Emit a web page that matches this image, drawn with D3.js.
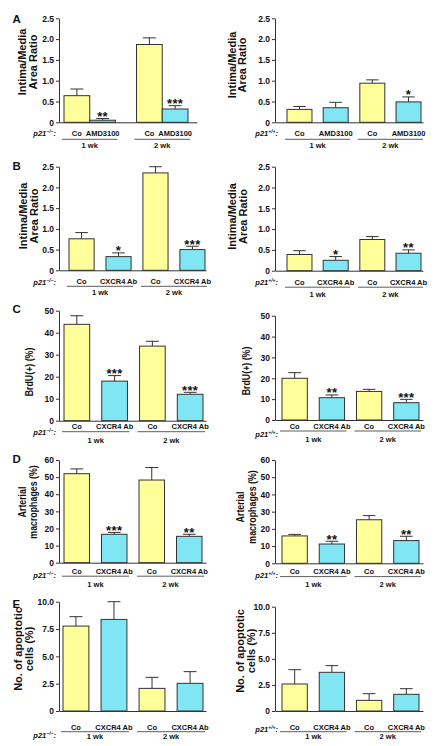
<!DOCTYPE html>
<html><head><meta charset="utf-8">
<script src="https://cdn.jsdelivr.net/npm/d3@7"></script>
<style>
body{margin:0;background:#fff}
svg{display:block}
text{font-family:"Liberation Sans",Arial,sans-serif;font-weight:bold;fill:#111}
</style>
</head><body><svg id="c" width="439" height="746"></svg>
<script>
// ---------- data ----------
const groups = ["1 wk", "2 wk"];
const treatAMD = ["Co", "AMD3100"];
const treatAb = ["Co", "CXCR4 Ab"];

const ticksRatio = [0, 0.5, 1.0, 1.5, 2.0, 2.5];
const ticksBrdU = [0, 10, 20, 30, 40, 50];
const ticksMac = [0, 10, 20, 30, 40, 50, 60];
const ticksApo = [0, 2.5, 5.0, 7.5, 10.0];

// order: [1wk Co, 1wk treat, 2wk Co, 2wk treat]
const aKoMean = [0.64, 0.05, 1.87, 0.32];
const aKoSem  = [0.16, 0.04, 0.16, 0.08];
const aKoStars = ["", "**", "", "***"];
const aWtMean = [0.31, 0.35, 0.94, 0.49];
const aWtSem  = [0.07, 0.13, 0.08, 0.12];
const aWtStars = ["", "", "", "*"];

const bKoMean = [0.76, 0.33, 2.35, 0.50];
const bKoSem  = [0.15, 0.09, 0.15, 0.08];
const bKoStars = ["", "*", "", "***"];
const bWtMean = [0.39, 0.25, 0.75, 0.42];
const bWtSem  = [0.09, 0.09, 0.07, 0.08];
const bWtStars = ["", "*", "", "**"];

const cKoMean = [43.8, 18.0, 33.9, 12.0];
const cKoSem  = [3.9, 2.5, 2.2, 0.9];
const cKoStars = ["", "***", "", "***"];
const cWtMean = [20.0, 10.7, 13.7, 8.3];
const cWtSem  = [2.7, 1.3, 1.0, 1.6];
const cWtStars = ["", "**", "", "***"];

const dKoMean = [52.0, 16.6, 48.3, 15.4];
const dKoSem  = [2.8, 1.1, 7.3, 1.2];
const dKoStars = ["", "***", "", "**"];
const dWtMean = [15.9, 11.2, 25.3, 13.2];
const dWtSem  = [0.9, 1.6, 2.4, 2.5];
const dWtStars = ["", "**", "", "**"];

const eKoMean = [7.77, 8.38, 2.07, 2.53];
const eKoSem  = [0.86, 1.62, 1.01, 1.07];
const eKoStars = ["", "", "", ""];
const eWtMean = [2.59, 3.71, 1.02, 1.60];
const eWtSem  = [1.37, 0.64, 0.64, 0.54];
const eWtStars = ["", "", "", ""];

const yTitleRatio = ["Intima/Media", "Area Ratio"];
const yTitleBrdU = ["BrdU(+) (%)"];
const yTitleMac = ["Arterial", "macrophages (%)"];
const yTitleApo = ["No. of apoptotic", "cells (%)"];

// ---------- styles / layout ----------
const YELLOW = "#ffff99", BLUE = "#80e6f4", STROKE = "#333";
const fmtDec = v => v === 0 ? "0" : d3.format(".1f")(v);
const fmtInt = v => d3.format("d")(v);

const L = {axisX: 59, axisEnd: 206, p21X: 56, geno: "\u2212/\u2212"};
const R = {axisX: 275, axisEnd: 423, p21X: 278, geno: "+/+"};

// squeeze factor for titles of rows that were vertically compressed in the figure
const panels = [
  {side: L, letter: "A", letterY: 23, y0: 122.3, y1: 18.3, ticks: ticksRatio, fmt: fmtDec,
   mean: aKoMean, sem: aKoSem, stars: aKoStars, treat: treatAMD, xr: [64, 188], po: 0.29, pi: 0, axisEnd: 197,
   title: yTitleRatio, tx: [26, 37], ty: 62, sq: 1, d1: 13.7, d2: 17, d3: 25.3, pY: 136},
  {side: R, y0: 122.3, y1: 18.3, ticks: ticksRatio, fmt: fmtDec,
   mean: aWtMean, sem: aWtSem, stars: aWtStars, treat: treatAMD, xr: [287, 421], po: 0.16, pi: 0.31,
   title: yTitleRatio, tx: [235.5, 246], ty: 65, sq: 1, d1: 13.7, d2: 17, d3: 25.3, pY: 136},
  {side: L, letter: "B", letterY: 170, y0: 270.3, y1: 166.7, ticks: ticksRatio, fmt: fmtDec,
   mean: bKoMean, sem: bKoSem, stars: bKoStars, treat: treatAb, xr: [69, 205], po: 0.16, pi: 0.32,
   title: yTitleRatio, tx: [26.5, 37.5], ty: 216, sq: 1, d1: 13.5, d2: 16, d3: 24.5, pY: 285},
  {side: R, y0: 270.7, y1: 166.7, ticks: ticksRatio, fmt: fmtDec,
   mean: bWtMean, sem: bWtSem, stars: bWtStars, treat: treatAb, xr: [287, 421], po: 0.16, pi: 0.31,
   title: yTitleRatio, tx: [235.5, 247], ty: 216.5, sq: 1, d1: 14, d2: 16.5, d3: 26, pY: 285},
  {side: L, letter: "C", letterY: 313, y0: 420.7, y1: 310.7, ticks: ticksBrdU, fmt: fmtInt,
   mean: cKoMean, sem: cKoSem, stars: cKoStars, treat: treatAb, xr: [64, 203], po: 0.16, pi: 0.32,
   title: yTitleBrdU, tx: [33], ty: 372, sq: 0.8, d1: 8.7, d2: 11, d3: 22, pY: 435},
  {side: R, y0: 420, y1: 315.7, ticks: ticksBrdU, fmt: fmtInt,
   mean: cWtMean, sem: cWtSem, stars: cWtStars, treat: treatAb, xr: [282, 419], po: 0.16, pi: 0.32,
   title: yTitleBrdU, tx: [249.5], ty: 371, sq: 0.8, d1: 8.5, d2: 11, d3: 22, pY: 436.5},
  {side: L, letter: "D", letterY: 463, y0: 562.7, y1: 460, ticks: ticksMac, fmt: fmtInt,
   mean: dKoMean, sem: dKoSem, stars: dKoStars, treat: treatAb, xr: [64, 202], po: 0.16, pi: 0.32,
   title: yTitleMac, tx: [25.5, 37], ty: 502, sq: 0.8, d1: 11.3, d2: 13.5, d3: 24.5, pY: 578},
  {side: R, y0: 563.3, y1: 460, ticks: ticksMac, fmt: fmtInt,
   mean: dWtMean, sem: dWtSem, stars: dWtStars, treat: treatAb, xr: [282, 419], po: 0.16, pi: 0.32,
   title: yTitleMac, tx: [244, 255.5], ty: 507, sq: 0.8, d1: 10.7, d2: 13.3, d3: 24, pY: 578},
  {side: L, letter: "E", letterY: 608, y0: 711, y1: 601.7, ticks: ticksApo, fmt: fmtDec,
   mean: eKoMean, sem: eKoSem, stars: eKoStars, treat: treatAb, xr: [63, 203], po: 0.16, pi: 0.32,
   title: yTitleApo, tx: [22, 33], ty: 649, sq: 1, d1: 19, d2: 20.7, d3: 28.3, pY: 738},
  {side: R, y0: 711, y1: 606.7, ticks: ticksApo, fmt: fmtDec,
   mean: eWtMean, sem: eWtSem, stars: eWtStars, treat: treatAb, xr: [282, 419], po: 0.16, pi: 0.32,
   title: yTitleApo, tx: [243.5, 255], ty: 651, sq: 1, d1: 19, d2: 20.7, d3: 28.3, pY: 731.7}
];

const svg = d3.select("#c");

panels.forEach(p => {
  const g = svg.append("g");
  const ax = p.side.axisX;
  const y = d3.scaleLinear().domain([0, d3.max(p.ticks)]).range([p.y0, p.y1]);
  const xo = d3.scaleBand().domain(groups).range(p.xr).paddingInner(p.po).paddingOuter(0);
  const xi = d3.scaleBand().domain(p.treat).range([0, xo.bandwidth()]).paddingInner(p.pi).paddingOuter(0);
  const bw = xi.bandwidth();

  const rows = [];
  groups.forEach((gr, gi) => p.treat.forEach((t, ti) => {
    const i = gi * 2 + ti;
    rows.push({gr, t, ti, m: p.mean[i], s: p.sem[i], star: p.stars[i], x: xo(gr) + xi(t)});
  }));

  // error bars (behind bars)
  const capW = bw * 0.5;
  rows.forEach(r => {
    const cx = r.x + bw / 2;
    g.append("line").attr("x1", cx).attr("x2", cx).attr("y1", y(r.m)).attr("y2", y(r.m + r.s))
      .attr("stroke", STROKE).attr("stroke-width", 1);
    g.append("line").attr("x1", cx - capW / 2).attr("x2", cx + capW / 2)
      .attr("y1", y(r.m + r.s)).attr("y2", y(r.m + r.s))
      .attr("stroke", STROKE).attr("stroke-width", 1);
  });

  // bars
  g.selectAll("rect.bar").data(rows).join("rect").attr("class", "bar")
    .attr("x", d => d.x).attr("width", bw)
    .attr("y", d => y(d.m)).attr("height", d => y(0) - y(d.m))
    .attr("fill", d => d.ti === 0 ? YELLOW : BLUE)
    .attr("stroke", STROKE).attr("stroke-width", 1);

  // stars
  rows.filter(r => r.star).forEach(r => {
    g.append("text").attr("x", r.x + bw / 2).attr("y", y(r.m + r.s) + 2.4)
      .attr("text-anchor", "middle").attr("font-size", 13).attr("letter-spacing", 0.4)
      .text(r.star);
  });

  // y axis
  const yAxis = d3.axisLeft(y).tickValues(p.ticks).tickFormat(p.fmt).tickSize(3).tickSizeOuter(0).tickPadding(2);
  const ya = g.append("g").attr("transform", `translate(${ax},0)`).call(yAxis);
  ya.select(".domain").attr("stroke", STROKE);
  ya.selectAll(".tick line").attr("stroke", STROKE);
  ya.selectAll(".tick text").attr("font-size", 8.5).attr("font-family", null).attr("fill", "#111");

  // x axis line
  const xEnd = p.axisEnd || p.side.axisEnd;
  const xs = d3.scaleLinear().domain([0, 1]).range([ax, xEnd]);
  const xa = g.append("g").attr("transform", `translate(0,${p.y0})`)
    .call(d3.axisBottom(xs).tickValues([]).tickSizeOuter(0));
  xa.select(".domain").attr("stroke", STROKE);

  // treatment labels
  rows.forEach(r => {
    g.append("text").attr("x", r.x + bw / 2).attr("y", p.y0 + p.d1)
      .attr("text-anchor", "middle").attr("font-size", 7.5).text(r.t);
  });
  // group underline + labels
  groups.forEach(gr => {
    const x0 = xo(gr) - 2, x1 = xo(gr) + xo.bandwidth() + 2;
    g.append("line").attr("x1", x0).attr("x2", x1).attr("y1", p.y0 + p.d2).attr("y2", p.y0 + p.d2)
      .attr("stroke", STROKE).attr("stroke-width", 0.8);
    g.append("text").attr("x", (x0 + x1) / 2).attr("y", p.y0 + p.d3)
      .attr("text-anchor", "middle").attr("font-size", 7.5).text(gr);
  });

  // genotype label
  const pt = g.append("text").attr("x", p.side.p21X).attr("y", p.pY).attr("text-anchor", "end")
    .attr("font-size", 7.5).attr("font-style", "italic");
  pt.append("tspan").text("p21");
  pt.append("tspan").attr("font-size", 5).attr("dy", -3).text(p.side.geno);
  pt.append("tspan").attr("dy", 3).text(":");

  // y title (rows C and D are vertically squeezed in the original figure)
  p.title.forEach((line, li) => {
    g.append("text").attr("transform", `translate(${p.tx[li]},${p.ty}) rotate(-90) scale(${p.sq},1)`)
      .attr("text-anchor", "middle").attr("font-size", 11).text(line);
  });

  // panel letter
  if (p.letter) {
    g.append("text").attr("x", 12.5).attr("y", p.letterY).attr("font-size", 11.5).text(p.letter);
  }
});
</script>
</body></html>
